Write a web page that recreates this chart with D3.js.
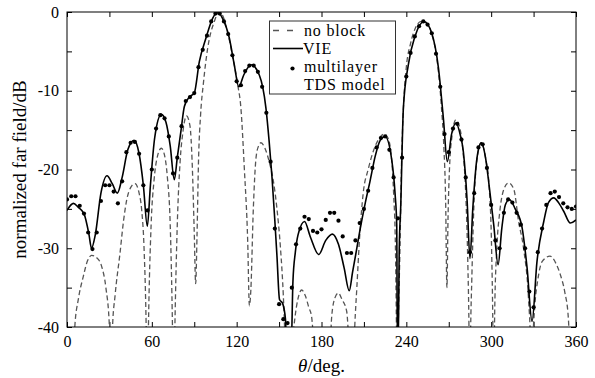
<!DOCTYPE html>
<html>
<head>
<meta charset="utf-8">
<script src="https://d3js.org/d3.v7.min.js"></script>
<style>
  body { margin: 0; background: #fff; }
  svg text { font-family: "Liberation Serif", "Times New Roman", serif; fill: #000; }
</style>
</head>
<body>
<div class="chart"></div>
<script>
// theta (deg) / normalized far field (dB)
const noBlock = [
  [0,-50],[4,-48],[5.5,-40],[8,-36.5],[11.5,-33.6],[14.5,-31.6],[17.5,-30.9],[21,-31.2],[24.5,-32.3],
  [27.5,-35],[30,-40],[31,-50],[32.2,-40],[34,-36],[37.5,-30.6],[40,-26.5],[42.2,-23.9],[45,-22.3],
  [48.1,-21.8],[51,-23],[52.8,-25.1],[54.5,-30],[56,-40],[56.8,-50],[57.6,-40],[59.5,-27],[61.5,-21.5],
  [64,-18.3],[66.7,-17.3],[69,-18.2],[71,-21],[73,-27],[74.6,-40],[75.4,-50],[76.3,-40],[78,-27],
  [80,-19],[82,-15.2],[84.5,-13.2],[87,-14.5],[88.5,-19],[90,-28],[91,-34.5],[92,-28],[93,-19],
  [94.5,-13],[96.5,-9],[99.5,-4.6],[104.2,-1.2],[107.7,0],[110.5,-0.6],[113.5,-2.5],[117,-5.5],
  [120.7,-9.2],[123,-12.2],[125.4,-19.8],[127.8,-29.1],[129,-37.3],[130,-35.4],[131.8,-24.9],
  [133.7,-18.5],[135.5,-17],[137.2,-16.6],[140,-17.3],[143,-19],[146,-21.5],[148.5,-25],[151,-30],
  [153,-36],[154.5,-43],[156,-50],[157.5,-50],[159.5,-42],[161.3,-38.7],[163.5,-36.3],[166,-35.3],
  [168.5,-36],[171,-37.5],[173,-38.7],[175,-44],[176.5,-50],[185.5,-45],[187.2,-38.7],[189.5,-36.3],
  [191.9,-35.7],[194.5,-36.5],[197.8,-38],[199.5,-43],[200.8,-50],[202.3,-46],[203.5,-40],[205,-35],
  [207,-28.5],[209.5,-23],[213,-20],[217,-17.5],[221,-16],[224.5,-15.5],[227,-16],[229.5,-18.5],
  [231,-23],[232.3,-30],[233,-40],[233.5,-50],[234.3,-40],[235.5,-30],[236.5,-20],[238,-12],[240,-7],
  [243,-4],[246.5,-2],[250.5,-1.2],[254,-1.4],[258,-2.8],[262,-6.5],[264.8,-12],[266.5,-17],
  [267.8,-24],[268.7,-35],[269.5,-26],[270.5,-20],[272.5,-15.5],[275,-13.7],[277.5,-14.5],[280,-17.5],
  [282,-23],[283.5,-32],[284.3,-40],[284.8,-50],[285.5,-40],[286.3,-34],[287.5,-26],[289.5,-19.5],
  [293,-16.6],[296,-18.5],[298.5,-22],[300.3,-30],[301.2,-40],[301.7,-50],[302.5,-38],[304,-30],
  [306,-25.5],[309,-22.5],[312.4,-21.7],[316,-22.5],[319.4,-26.6],[322.9,-30],[326.5,-36.7],
  [327.8,-42],[328.5,-50],[329.5,-42],[331,-37],[333,-34],[336,-31.7],[341.6,-31],[346,-32],
  [349,-33.4],[352,-35.5],[354.6,-38.9],[355.8,-44],[357,-50],[360,-50]
];

const vie = [
  [0,-25.2],[4.5,-24.3],[8,-24.8],[12,-25.6],[15.5,-28.2],[17.3,-30],[20,-28.3],[24,-23],[28.3,-20.8],
  [32,-21.8],[35.6,-23],[39,-21],[43,-17.5],[47.4,-16.3],[51,-18],[54,-22],[56.8,-27.2],[59,-22],
  [62,-16],[66.7,-13],[70,-14],[73,-17],[75.9,-21.3],[78,-18.5],[80.6,-15.1],[83,-12],[86.5,-10.8],
  [90,-10.3],[93.6,-6.3],[98.3,-3.3],[103,-0.8],[106.5,0],[110,-0.8],[114.8,-3.3],[118.3,-6.7],
  [121.5,-9.5],[125,-8],[130.2,-6.7],[136,-8],[140.7,-12.2],[143,-16.5],[145,-21],[147,-26.5],
  [148.5,-31],[150.3,-36.5],[152.5,-37],[154.5,-39],[155.5,-43],[158.5,-43],[159.8,-34.2],
  [161.5,-30.5],[163.4,-28.3],[168,-26.6],[172,-28.5],[178,-30.8],[183,-29],[187.7,-28.2],
  [192,-29.5],[196,-32.5],[199.6,-35.4],[202,-33],[204.5,-30.5],[207.2,-27.7],[211,-24.2],
  [214.3,-21.5],[218,-18.3],[221.5,-16.3],[225,-15.8],[229.7,-18.8],[232,-23],[233.2,-27],
  [233.7,-43],[234.2,-43],[235,-30],[236,-24.9],[237.9,-12.2],[241.4,-6.7],[246.1,-3.1],
  [252.5,-1.2],[258,-2.7],[262.7,-7.1],[266.2,-13.5],[269,-19],[272,-15.5],[275.1,-14.1],[278,-15.5],
  [280.3,-17.7],[283,-24],[285,-31.3],[287,-25],[290,-18.5],[293,-16.6],[296,-18.5],[298.2,-21.5],
  [301.8,-27],[304.9,-32.1],[307.5,-27.5],[310,-24.5],[312.9,-23.8],[317,-25],[321.9,-27.4],
  [325.4,-32.5],[328.9,-39.3],[332.4,-31.7],[337.2,-26.6],[340.5,-24.2],[344.3,-23.6],[348,-24.3],
  [351.3,-25.3],[356,-26.8],[360,-26.4]
];

const tds = [
  [0,-23.8],[3,-23.4],[6,-23.4],[9,-24.6],[12,-25.6],[15,-28],[18,-30.1],[21,-28],[24,-24],[27,-22],
  [30,-22],[33,-22.8],[36,-24.3],[39,-21.5],[42,-17.8],[45,-16.6],[48,-16.5],[51,-18],[54,-22],
  [57,-25.2],[60,-20],[63,-14.8],[66,-13.1],[69,-13.5],[72,-15.8],[75,-20.5],[78,-18.5],[81,-14.5],
  [84,-11.3],[87,-10.8],[90,-10.3],[93,-7],[96,-4.8],[99,-3],[102,-1.2],[105,-0.2],[108,-0.2],
  [111,-1.2],[114,-2.8],[117,-5.5],[120,-8.8],[123,-9.3],[126,-7.5],[129,-6.8],[132,-6.8],[135,-7.6],
  [138,-9.5],[141,-12.8],[144,-19],[147,-27.5],[150,-37.1],[153,-39],[156,-39.5],[159,-35],
  [162,-29.5],[165,-27.5],[168,-26],[171,-26.3],[174,-27.8],[177,-28],[180,-27.6],[183,-26.4],
  [186,-25.5],[189,-25.5],[192,-26.5],[195,-28.5],[198,-30.6],[201,-30.6],[204,-29],[207,-26.8],
  [210,-25],[213,-22.7],[216,-19.8],[219,-17.2],[222,-16],[225,-15.8],[228,-17.5],[231,-21],
  [234,-26.2],[237,-18.5],[240,-8.2],[243,-5.2],[246,-3.1],[249,-1.8],[252,-1.2],[255,-1.6],
  [258,-2.7],[261,-5.3],[264,-9.5],[267,-15.5],[270,-17.8],[273,-14.8],[276,-14.2],[279,-16.2],
  [282,-21],[285,-30.5],[288,-23],[291,-17.2],[294,-16.8],[297,-19.8],[300,-24.5],[303,-29],
  [306,-30],[309,-25.5],[312,-23.8],[315,-24.2],[318,-25.5],[321,-27],[324,-30],[327,-35.5],
  [330,-37.5],[333,-30.5],[336,-27.5],[339,-24.5],[342,-23],[345,-22.8],[348,-23.5],[351,-24.3],
  [354,-24.8],[357,-25],[360,-24.7]
];

const xTicks = [0, 30, 60, 90, 120, 150, 180, 210, 240, 270, 300, 330, 360];
const yTicks = [-40, -35, -30, -25, -20, -15, -10, -5, 0];
const legendLabels = ["no block", "VIE", "multilayer", "TDS model"];

const width = 595, height = 378;
const margin = {top: 12, right: 19, bottom: 51, left: 67};
const plotW = width - margin.left - margin.right;
const plotH = height - margin.top - margin.bottom;

const svg = d3.select(".chart").append("svg")
  .attr("width", width)
  .attr("height", height);

const x = d3.scaleLinear().domain([0, 360]).range([margin.left, margin.left + plotW]);
const y = d3.scaleLinear().domain([-40, 0]).range([margin.top + plotH, margin.top]);

svg.append("clipPath").attr("id", "plot-clip")
  .append("rect")
  .attr("x", margin.left).attr("y", margin.top)
  .attr("width", plotW).attr("height", plotH);

// axes - ticks point inward, labels only on the major ones
const xLab = d => d % 60 === 0 ? String(d) : "";
const yLab = d => d % 10 === 0 ? String(d) : "";

svg.append("g")
  .attr("class", "axis")
  .attr("transform", "translate(0," + (margin.top + plotH) + ")")
  .call(d3.axisBottom(x).tickValues(xTicks).tickSize(-5).tickPadding(9).tickFormat(xLab));
svg.append("g")
  .attr("class", "axis")
  .attr("transform", "translate(0," + margin.top + ")")
  .call(d3.axisTop(x).tickValues(xTicks).tickSize(-5).tickFormat(""));
svg.append("g")
  .attr("class", "axis")
  .attr("transform", "translate(" + margin.left + ",0)")
  .call(d3.axisLeft(y).tickValues(yTicks).tickSize(-5).tickPadding(8).tickFormat(yLab));
svg.append("g")
  .attr("class", "axis")
  .attr("transform", "translate(" + (margin.left + plotW) + ",0)")
  .call(d3.axisRight(y).tickValues(yTicks).tickSize(-5).tickFormat(""));

svg.selectAll(".axis .domain").remove();
svg.selectAll(".axis text").style("font-size", "16px");
svg.selectAll(".axis line").attr("stroke", "#000");

const line = d3.line()
  .x(d => x(d[0]))
  .y(d => y(d[1]))
  .curve(d3.curveMonotoneX);

const curves = svg.append("g").attr("clip-path", "url(#plot-clip)");

curves.append("path")
  .datum(noBlock)
  .attr("d", line)
  .attr("fill", "none")
  .attr("stroke", "#555")
  .attr("stroke-width", 1.3)
  .attr("stroke-dasharray", "5,3");

curves.append("path")
  .datum(vie)
  .attr("d", line)
  .attr("fill", "none")
  .attr("stroke", "#000")
  .attr("stroke-width", 1.6);

curves.selectAll(".dot")
  .data(tds)
  .enter()
  .append("circle")
  .attr("class", "dot")
  .attr("cx", d => x(d[0]))
  .attr("cy", d => y(d[1]))
  .attr("r", 2.1)
  .attr("fill", "#000");

// frame
svg.append("rect")
  .attr("x", margin.left).attr("y", margin.top)
  .attr("width", plotW).attr("height", plotH)
  .attr("fill", "none")
  .attr("stroke", "#000")
  .attr("stroke-width", 1);

// axis titles
const xt = svg.append("text")
  .attr("x", x(180))
  .attr("y", 372)
  .attr("text-anchor", "middle")
  .style("font-size", "19px");
xt.append("tspan").style("font-style", "italic").text("θ");
xt.append("tspan").text("/deg.");

svg.append("text")
  .attr("transform", "translate(26," + y(-20) + ") rotate(-90)")
  .attr("text-anchor", "middle")
  .style("font-size", "19px")
  .text("normalized far field/dB");

// legend
const lg = svg.append("g");
lg.append("rect")
  .attr("x", 269.5).attr("y", 21)
  .attr("width", 126).attr("height", 73)
  .attr("fill", "#fff")
  .attr("stroke", "#333")
  .attr("stroke-width", 1);

const rowY = [30.5, 48.5, 66.5, 84.5];
lg.append("line")
  .attr("x1", 273).attr("x2", 294)
  .attr("y1", rowY[0]).attr("y2", rowY[0])
  .attr("stroke", "#555").attr("stroke-width", 1.3)
  .attr("stroke-dasharray", "6,8");
lg.append("line")
  .attr("x1", 273).attr("x2", 303)
  .attr("y1", rowY[1]).attr("y2", rowY[1])
  .attr("stroke", "#000").attr("stroke-width", 1.6);
lg.append("circle")
  .attr("cx", 292.5).attr("cy", rowY[2] + 2)
  .attr("r", 2.1).attr("fill", "#000");

lg.selectAll(".lgtext")
  .data(legendLabels)
  .enter()
  .append("text")
  .attr("class", "lgtext")
  .attr("x", (d, i) => i === 1 ? 303 : 304)
  .attr("y", (d, i) => rowY[i] + 5.5)
  .style("font-size", "16px")
  .style("letter-spacing", "0.8px")
  .text(d => d);
</script>
</body>
</html>
